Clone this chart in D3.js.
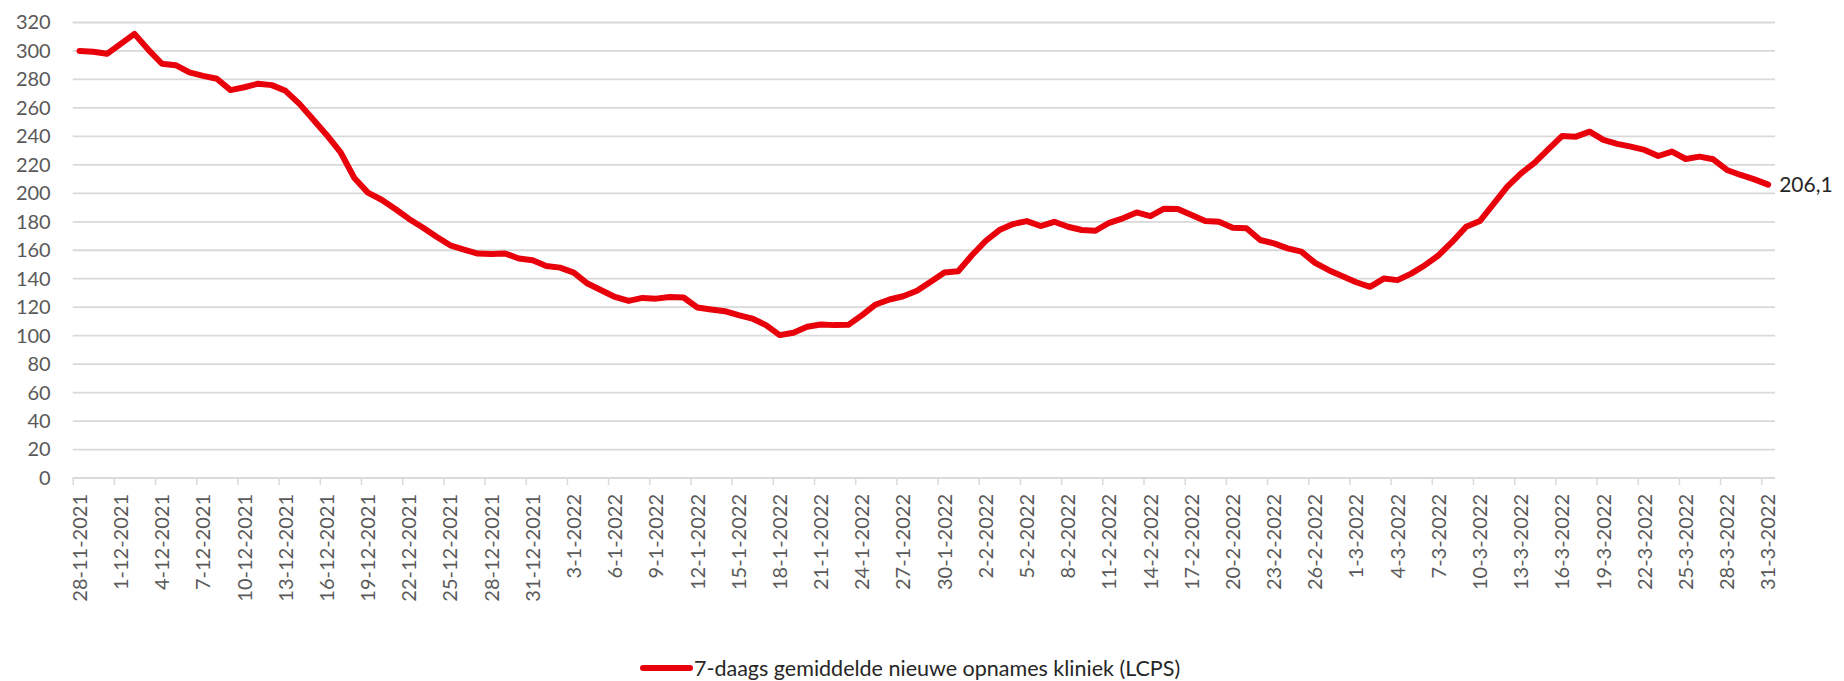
<!DOCTYPE html>
<html>
<head>
<meta charset="utf-8">
<script src="https://cdn.jsdelivr.net/npm/d3@7"></script>
<style>
  html, body { margin: 0; padding: 0; background: #fff; }
  svg { display: block; font-family: Lato, "Open Sans", sans-serif; }
</style>
</head>
<body>
<svg id="chart" width="1844" height="681"></svg>
<script>
(function () {
// ---- data ----
const startDate = new Date(2021, 10, 28);
const endDate = new Date(2022, 2, 31);
const categories = d3.timeDay.range(startDate, d3.timeDay.offset(endDate, 1));
const seriesName = "7-daags gemiddelde nieuwe opnames kliniek (LCPS)";
const values = [
  300, 299.5, 298, 305, 312, 301, 291, 290, 285, 282.5,
  280.5, 272.5, 274.5, 277, 276, 272, 263, 252, 241, 229,
  211, 200.5, 195.5, 189, 182, 176, 169.5, 163.5, 160.5, 157.7,
  157.4, 157.7, 154.2, 153, 149, 147.8, 144.3, 136.6, 131.9, 127.2,
  124.4, 126.5, 126, 127.2, 126.8, 119.8, 118.4, 117.2, 114.4, 112,
  107.4, 100.4, 102, 106.2, 107.8, 107.4, 107.6, 114.4, 121.9, 125.4,
  127.7, 131.5, 137.8, 144.3, 145.3, 156.5, 166.5, 174.2, 178.4, 180.5,
  177, 180, 176.5, 174.2, 173.7, 179.3, 182.4, 186.6, 184, 189.2,
  189, 184.7, 180.5, 180, 175.8, 175.4, 167.2, 164.8, 161.3, 159,
  151.1, 146, 141.8, 137.5, 134.3, 140.1, 139, 143.6, 149.5, 156.5,
  166, 176.5, 180.5, 192.5, 204.7, 214, 221.5, 231, 240.3, 239.8,
  243.3, 237.5, 234.7, 232.8, 230.5, 226.2, 229.3, 224.1, 225.8, 223.9,
  216.4, 212.9, 209.8, 206.1
];
const yTicks = [0, 20, 40, 60, 80, 100, 120, 140, 160, 180, 200, 220, 240, 260, 280, 300, 320];
const lastLabel = "206,1";
const labelEvery = 3;

// ---- layout ----
const svg = d3.select("#chart");
const plotLeft = 72.7, plotRight = 1775, plotTop = 22.5, plotBottom = 478;

const xBand = d3.scaleBand().domain(d3.range(categories.length)).range([plotLeft, plotRight]).padding(0);
const xLin = d3.scaleLinear().domain([0, categories.length]).range([plotLeft, plotRight]);
const y = d3.scaleLinear().domain([0, 320]).range([plotBottom, plotTop]);

const fmt = d3.timeFormat("%-d-%-m-%Y");
const gridColor = "#d9d9d9";
const textColor = "#595959";
const fontFam = "Lato, 'Open Sans', sans-serif";

// gridlines
svg.append("g")
  .selectAll("line")
  .data(yTicks.filter(d => d > 0))
  .join("line")
  .attr("x1", plotLeft).attr("x2", plotRight)
  .attr("y1", d => y(d)).attr("y2", d => y(d))
  .attr("stroke", gridColor).attr("stroke-width", 1.8);

// y axis labels
const yAxis = d3.axisLeft(y).tickValues(yTicks).tickSize(0).tickPadding(22);
const gy = svg.append("g").attr("transform", `translate(${plotLeft},0)`).call(yAxis);
gy.select(".domain").remove();
gy.selectAll("text").attr("fill", textColor).style("font-size", "20px").style("font-family", fontFam);

// x axis: boundary ticks
const tickIdx = d3.range(0, categories.length, labelEvery);
const xTickAxis = d3.axisBottom(xLin).tickValues(tickIdx).tickSize(7).tickFormat("");
const gxt = svg.append("g").attr("transform", `translate(0,${plotBottom})`).call(xTickAxis);
gxt.select(".domain").attr("stroke", gridColor).attr("stroke-width", 1.8)
   .attr("d", `M${plotLeft},0H${plotRight}`);
gxt.selectAll(".tick line").attr("stroke", gridColor).attr("stroke-width", 1.5);

// x axis labels at category centers
const xLabAxis = d3.axisBottom(xBand).tickValues(tickIdx).tickSize(0).tickFormat(i => fmt(categories[i]));
const gxl = svg.append("g").attr("transform", `translate(0,${plotBottom})`).call(xLabAxis);
gxl.select(".domain").remove();
gxl.selectAll("text")
  .attr("fill", textColor)
  .style("font-size", "20px")
  .style("font-family", fontFam)
  .attr("transform", "rotate(-90)")
  .attr("text-anchor", "end")
  .attr("x", -16)
  .attr("y", 0)
  .attr("dy", "0.36em");

// line
const line = d3.line()
  .x((d, i) => xBand(i) + xBand.bandwidth() / 2)
  .y(d => y(d));

const red = "#e8000b";
svg.append("path")
  .datum(values)
  .attr("d", line)
  .attr("fill", "none")
  .attr("stroke", red)
  .attr("stroke-width", 6)
  .attr("stroke-linejoin", "round")
  .attr("stroke-linecap", "round");

// last value label
const li = values.length - 1;
svg.append("text")
  .attr("x", xBand(li) + xBand.bandwidth() / 2 + 11)
  .attr("y", y(values[li]))
  .attr("dy", "0.36em")
  .attr("fill", "#262626")
  .style("font-size", "21px")
  .style("font-family", fontFam)
  .text(lastLabel);

// legend
const lg = svg.append("g").attr("transform", "translate(0,668)");
lg.append("line")
  .attr("x1", 643).attr("x2", 690).attr("y1", 0).attr("y2", 0)
  .attr("stroke", red).attr("stroke-width", 6).attr("stroke-linecap", "round");
lg.append("text")
  .attr("x", 694).attr("y", 0).attr("dy", "0.36em")
  .attr("fill", "#262626")
  .style("font-size", "21.5px")
  .style("font-family", fontFam)
  .text(seriesName);
})();
</script>
</body>
</html>
